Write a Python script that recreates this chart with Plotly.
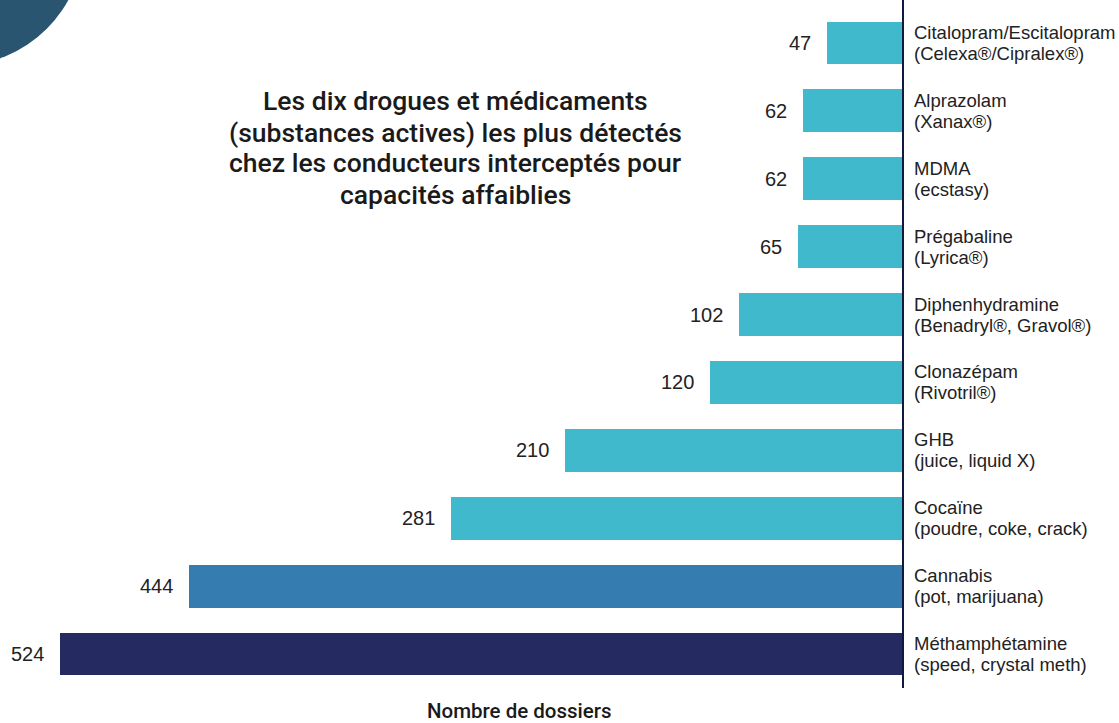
import plotly.graph_objects as go

# Data (index 0 is the bottom bar)
names = ["Méthamphétamine", "Cannabis", "Cocaïne", "GHB", "Clonazépam",
         "Diphenhydramine", "Prégabaline", "MDMA", "Alprazolam",
         "Citalopram/Escitalopram"]
subnames = ["(speed, crystal meth)", "(pot, marijuana)", "(poudre, coke, crack)",
            "(juice, liquid X)", "(Rivotril®)", "(Benadryl®, Gravol®)",
            "(Lyrica®)", "(ecstasy)", "(Xanax®)", "(Celexa®/Cipralex®)"]
values = [524, 444, 281, 210, 120, 102, 65, 62, 62, 47]
colors = ["#252B60", "#357DB1"] + ["#41B9CC"] * 8

title_lines = ["Les dix drogues et médicaments",
               "(substances actives) les plus détectés",
               "chez les conducteurs interceptés pour",
               "capacités affaiblies"]
xlabel = "Nombre de dossiers"

W, H = 1119, 723
ML, MR, MT, MB = 0, 216, 9, 35
pw = W - ML - MR
ph = H - MT - MB

def px2x(p):
    return (p - ML) / pw

def py2y(p):
    return (H - MB - p) / ph

ycats = list(range(len(values)))

fig = go.Figure()
fig.add_trace(go.Bar(
    x=values, y=ycats, orientation="h",
    marker=dict(color=colors, line=dict(width=0)),
    width=0.63, hoverinfo="skip",
))

lab_font = dict(family="Liberation Sans, Arial", size=18.5, color="#222222")
annotations = []
for i, v in enumerate(values):
    annotations.append(dict(
        x=v, y=i, xref="x", yref="y", text=str(v), showarrow=False,
        xanchor="right", yanchor="middle", xshift=-14,
        font=dict(family="Liberation Sans, Arial", size=20, color="#222222"),
    ))
    for txt, ys in ((names[i], 10.5), (subnames[i], -10.5)):
        annotations.append(dict(
            x=0, y=i, xref="x", yref="y", text=txt,
            showarrow=False, xanchor="left", yanchor="middle", xshift=9,
            yshift=ys, align="left", font=lab_font,
        ))

for k, line in enumerate(title_lines):
    annotations.append(dict(
        x=px2x(455), y=py2y(101 + 31 * k), xref="paper", yref="paper",
        text=line, showarrow=False, xanchor="center", yanchor="middle",
        font=dict(family="Roboto", size=26.5, color="#1a1a1a", weight=500),
    ))
annotations.append(dict(
    x=px2x(519), y=py2y(711), xref="paper", yref="paper",
    text=xlabel, showarrow=False, xanchor="center", yanchor="middle",
    font=dict(family="Roboto", size=20.5, color="#1a1a1a", weight=500),
))

# decorative circle in the top-left corner
ca, cb, cr = -43, -61, 127
shapes = [
    dict(type="circle", xref="paper", yref="paper",
         x0=px2x(ca - cr), x1=px2x(ca + cr), y0=py2y(cb + cr), y1=py2y(cb - cr),
         fillcolor="#2A5570", line=dict(width=0), layer="below"),
    dict(type="line", xref="paper", yref="paper",
         x0=1, x1=1, y0=py2y(688), y1=py2y(0),
         line=dict(color="#101A40", width=2)),
]

fig.update_layout(
    width=W, height=H,
    margin=dict(l=ML, r=MR, t=MT, b=MB),
    paper_bgcolor="white", plot_bgcolor="white",
    showlegend=False,
    xaxis=dict(range=[(W - MR - ML) / 1.609, 0], visible=False, fixedrange=True),
    yaxis=dict(range=[-0.5, len(values) - 0.5], visible=False, fixedrange=True),
    annotations=annotations,
    shapes=shapes,
    bargap=0,
)

fig.write_html("out.html", config={"displayModeBar": False},
               post_script="document.body.style.margin='0px';")
